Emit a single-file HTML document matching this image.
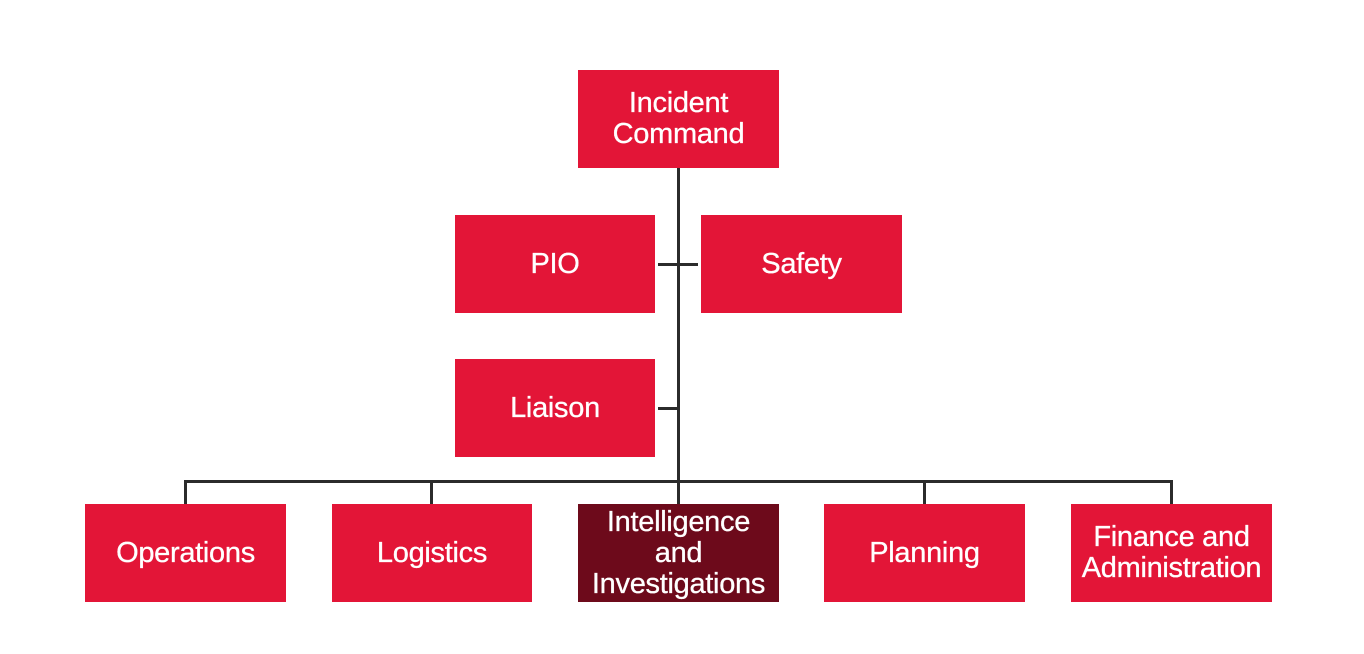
<!DOCTYPE html>
<html><head><style>
body{margin:0;width:1364px;height:654px;background:#fff;position:relative;overflow:hidden;font-family:"Liberation Sans",sans-serif}
.b{position:absolute;background:#e31537;color:#fff;display:flex;align-items:center;justify-content:center;text-align:center;font-size:29px;line-height:31px;width:201px;height:98px;letter-spacing:-0.3px;-webkit-text-stroke:0.3px #fff}
.l{position:absolute;background:#2b2b2b}
</style></head><body>
<div class="l" style="left:677px;top:168px;width:3px;height:314px"></div>
<div class="l" style="left:658px;top:263px;width:40px;height:3px"></div>
<div class="l" style="left:658px;top:407px;width:20px;height:3px"></div>
<div class="l" style="left:184px;top:480px;width:989px;height:3px"></div>
<div class="l" style="left:184px;top:480px;width:3px;height:24px"></div>
<div class="l" style="left:430px;top:480px;width:3px;height:24px"></div>
<div class="l" style="left:677px;top:480px;width:3px;height:24px"></div>
<div class="l" style="left:923px;top:480px;width:3px;height:24px"></div>
<div class="l" style="left:1170px;top:480px;width:3px;height:24px"></div>
<div class="b" style="left:578px;top:70px">Incident<br>Command</div>
<div class="b" style="left:455px;top:215px;width:200px">PIO</div>
<div class="b" style="left:701px;top:215px">Safety</div>
<div class="b" style="left:455px;top:359px;width:200px">Liaison</div>
<div class="b" style="left:85px;top:504px">Operations</div>
<div class="b" style="left:332px;top:504px;width:200px">Logistics</div>
<div class="b" style="left:578px;top:504px;background:#6d0a1b">Intelligence<br>and<br>Investigations</div>
<div class="b" style="left:824px;top:504px">Planning</div>
<div class="b" style="left:1071px;top:504px">Finance and<br>Administration</div>
</body></html>
